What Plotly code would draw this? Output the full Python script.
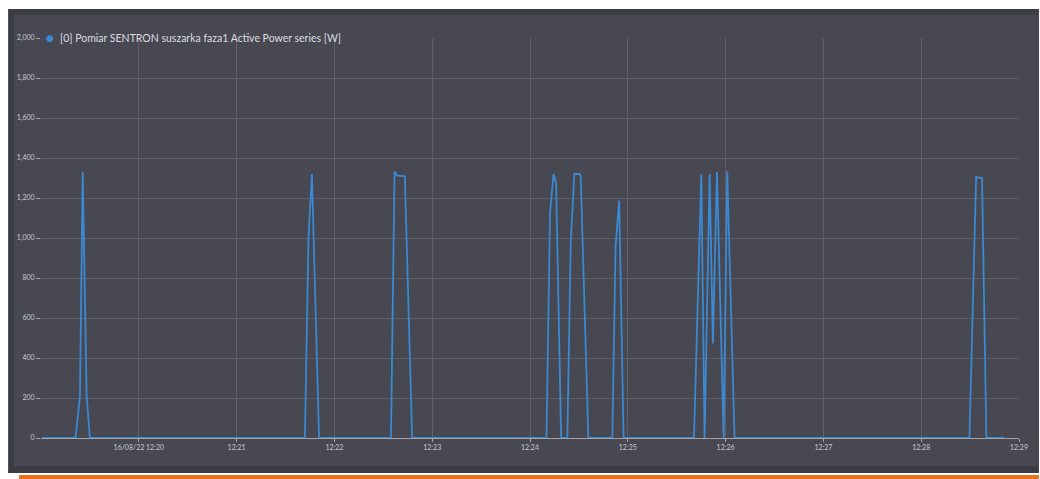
import plotly.graph_objects as go

# ---- data ----
times = [
    "2022-08-16 12:19:01",
    "2022-08-16 12:19:21.2", "2022-08-16 12:19:23.9", "2022-08-16 12:19:25.6", "2022-08-16 12:19:28.0", "2022-08-16 12:19:30.0",
    "2022-08-16 12:21:41.9", "2022-08-16 12:21:44.1", "2022-08-16 12:21:46.2", "2022-08-16 12:21:50.6",
    "2022-08-16 12:22:34.7", "2022-08-16 12:22:36.9", "2022-08-16 12:22:38.5", "2022-08-16 12:22:41.0", "2022-08-16 12:22:43.2", "2022-08-16 12:22:47.7",
    "2022-08-16 12:24:10.1", "2022-08-16 12:24:12.3", "2022-08-16 12:24:14.4", "2022-08-16 12:24:16.0", "2022-08-16 12:24:19.1",
    "2022-08-16 12:24:22.9", "2022-08-16 12:24:25.0", "2022-08-16 12:24:27.2", "2022-08-16 12:24:30.3", "2022-08-16 12:24:31.1", "2022-08-16 12:24:35.8",
    "2022-08-16 12:24:50.5", "2022-08-16 12:24:52.5", "2022-08-16 12:24:54.7", "2022-08-16 12:24:57.4",
    "2022-08-16 12:25:40.6", "2022-08-16 12:25:45.1", "2022-08-16 12:25:47.1", "2022-08-16 12:25:50.2", "2022-08-16 12:25:52.2",
    "2022-08-16 12:25:54.7", "2022-08-16 12:25:58.8", "2022-08-16 12:26:01.0", "2022-08-16 12:26:05.5",
    "2022-08-16 12:28:29.6", "2022-08-16 12:28:33.7", "2022-08-16 12:28:37.3", "2022-08-16 12:28:40.0",
    "2022-08-16 12:28:50.8",
]
power_w = [
    0,
    0, 210, 1330, 210, 0,
    0, 1000, 1320, 0,
    0, 1332, 1312, 1310, 1310, 0,
    0, 1125, 1320, 1278, 0,
    0, 980, 1320, 1320, 1310, 0,
    0, 957, 1187, 0,
    0, 1320, 0, 1320, 473,
    1330, 0, 1332, 0,
    0, 1305, 1300, 0,
    0,
]
series_name = "[0] Pomiar SENTRON suszarka faza1 Active Power series [W]"

x_tick_vals = ["2022-08-16 12:%02d:00" % m for m in range(20, 30)]
x_tick_text = ["16/08/22 12:20"] + ["12:%02d" % m for m in range(21, 30)]
y_tick_vals = list(range(0, 2001, 200))

# ---- styling ----
W, H = 1040, 479
L, R, T, B = 41, 18, 38, 41
pw, ph = W - L - R, H - T - B

def px(xp):
    return (xp - L) / pw

def py(yp):
    return (H - B - yp) / ph

PANEL = "#474852"
FRAME = "#3b3c44"
GRID = "#5d5e69"
TXT = "#c9c9ce"
BLUE = "#3a89d2"

fig = go.Figure()
fig.add_trace(go.Scatter(
    x=times, y=power_w, mode="lines", name=series_name,
    line=dict(color=BLUE, width=1.8), showlegend=False,
))

shapes = [
    dict(type="rect", xref="paper", yref="paper", x0=px(8), x1=px(W + 2), y0=py(473), y1=py(9),
         fillcolor=FRAME, line=dict(width=0), layer="below"),
    dict(type="rect", xref="paper", yref="paper", x0=px(14), x1=px(W + 2), y0=py(466), y1=py(15),
         fillcolor=PANEL, line=dict(width=0), layer="below"),
    dict(type="rect", xref="paper", yref="paper", x0=px(19), x1=px(W + 2), y0=py(H + 2), y1=py(475),
         fillcolor="#e8711c", line=dict(width=0), layer="below"),
]

fig.update_layout(
    width=W, height=H,
    margin=dict(l=L, r=R, t=T, b=B, pad=0),
    paper_bgcolor="white",
    plot_bgcolor="rgba(0,0,0,0)",
    font=dict(family="Lato, 'Open Sans', sans-serif", color=TXT, size=7),
    shapes=shapes,
    showlegend=False,
    annotations=[
        dict(xref="paper", yref="paper", x=px(50), y=py(38), text="●", showarrow=False,
             xanchor="center", yanchor="middle", font=dict(color=BLUE, size=9, family="DejaVu Sans")),
        dict(xref="paper", yref="paper", x=px(58), y=py(38), text=series_name, showarrow=False,
             xanchor="left", yanchor="middle", font=dict(color="#dcdce0", size=10.5, family="Lato")),
    ],
)

fig.update_xaxes(
    type="date",
    range=["2022-08-16 12:19:00", "2022-08-16 12:29:00"],
    tickmode="array", tickvals=x_tick_vals, ticktext=x_tick_text,
    showgrid=True, gridcolor=GRID, gridwidth=1,
    showline=True, linecolor="#a3a3aa", linewidth=1,
    ticks="outside", ticklen=3, tickcolor="#a3a3aa",
    tickfont=dict(size=7, color=TXT),
    zeroline=False,
)
fig.update_yaxes(
    range=[0, 2000],
    tickmode="array", tickvals=y_tick_vals, tickformat=",d",
    showgrid=True, gridcolor=GRID, gridwidth=1,
    showline=False, zeroline=False,
    ticks="outside", ticklen=4, tickcolor="#a3a3aa",
    tickfont=dict(size=7, color=TXT),
)

fig.write_html(
    "out.html",
    config={"displayModeBar": False},
    post_script="document.body.style.margin='0px';document.body.style.overflow='hidden';",
)
